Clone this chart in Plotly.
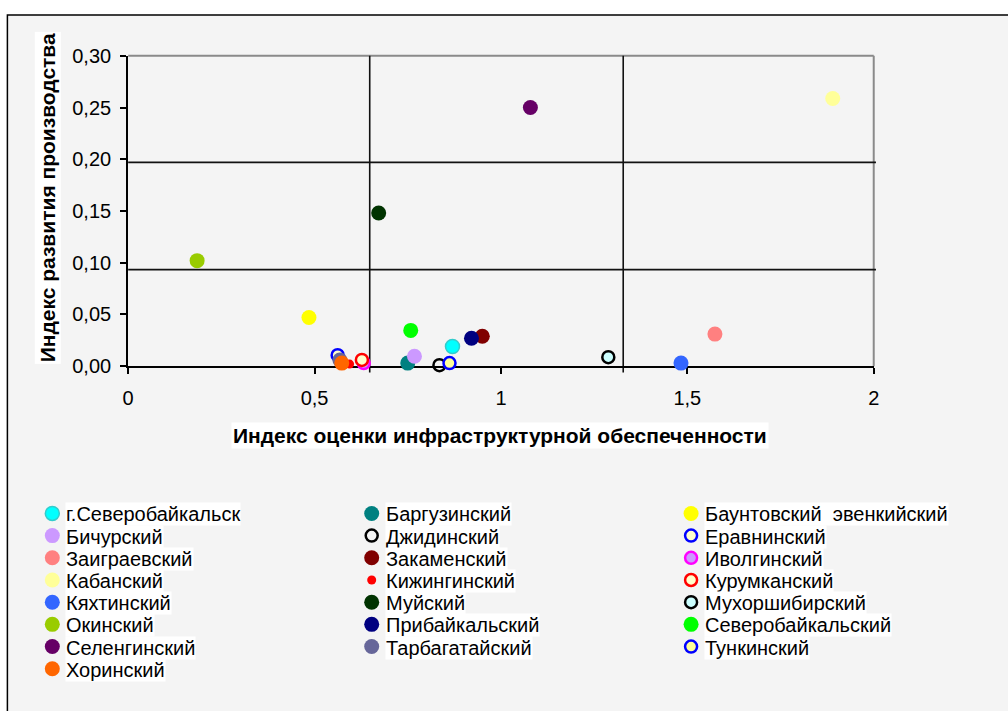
import plotly.graph_objects as go

# ---------------- data ----------------
districts = [
    "г.Северобайкальск", "Баргузинский", "Баунтовский  эвенкийский",
    "Бичурский", "Джидинский", "Еравнинский",
    "Заиграевский", "Закаменский", "Иволгинский",
    "Кабанский", "Кижингинский", "Курумканский",
    "Кяхтинский", "Муйский", "Мухоршибирский",
    "Окинский", "Прибайкальский", "Северобайкальский",
    "Селенгинский", "Тарбагатайский", "Тункинский",
    "Хоринский",
]
infra_index = [0.870, 0.750, 0.485, 0.768, 0.835, 0.562, 1.574, 0.950, 0.632,
               1.890, 0.594, 0.627, 1.483, 0.672, 1.288, 0.185, 0.921, 0.758,
               1.079, 0.568, 0.862, 0.573]
prod_index = [0.019, 0.003, 0.047, 0.0096, 0.001, 0.0106, 0.031, 0.029, 0.003,
              0.2587, 0.002, 0.006, 0.003, 0.148, 0.0087, 0.102, 0.027, 0.0346,
              0.250, 0.006, 0.003, 0.003]

# quadrant divider lines (values on the axes)
divider_x = [0.648, 1.328]
divider_y = [0.0933, 0.197]

x_title = "Индекс оценки инфраструктурной обеспеченности"
y_title = "Индекс развития производства"

# ---------------- styles ----------------
fill_colors = ["#00ffff", "#008080", "#ffff00", "#cc99ff", "rgba(0,0,0,0)", "#ffffcc",
               "#ff8080", "#800000", "#cc99ff", "#ffff99", "#ff0000", "#ffffcc",
               "#3366ff", "#003300", "#ccffff", "#99cc00", "#000080", "#00ff00",
               "#660066", "#666699", "#ffff99", "#ff6600"]
line_colors = ["#33cccc", "#008080", "#ffff00", "#cc99ff", "#000000", "#0000ff",
               "#ff8080", "#800000", "#ff00ff", "#ffff99", "#ff0000", "#ff0000",
               "#3366ff", "#003300", "#000000", "#99cc00", "#000080", "#00ff00",
               "#660066", "#666699", "#0000ff", "#ff6600"]
line_widths = [1.5, 0, 0, 0, 2.5, 2.5, 0, 0, 2.5, 0, 0, 2.5,
               0, 0, 2.5, 0, 0, 0, 0, 0, 2.5, 0]
sizes = [14, 15, 15, 15, 12, 12, 15, 15, 12, 15, 9, 12,
         15, 15, 12, 15, 15, 15, 15, 15, 12, 15]

W, H = 1008, 711
FONT = "Liberation Sans, Arial, sans-serif"

# calibration of page -> picture (observed)
SX, OX, SY, OY = 0.99, 5.6, 0.974, 9.0
def dx(t):
    return (t - OX) / SX
def dy(t):
    return (t - OY) / SY

plot_l, plot_r, plot_t, plot_b = dx(128), dx(875), dy(54), dy(366)

fig = go.Figure()

for i, name in enumerate(districts):
    fig.add_trace(go.Scatter(
        x=[infra_index[i]], y=[prod_index[i]], mode="markers", name=name,
        marker=dict(size=sizes[i], color=fill_colors[i], opacity=1,
                    line=dict(color=line_colors[i], width=line_widths[i])),
        cliponaxis=False, showlegend=False, xaxis="x", yaxis="y",
    ))

# ---------------- manual legend (3 columns, row-major) ----------------
ncol = 3
col_px, col_step = dx(52), 320 / SX
row_px, row_step = dy(514), 22.3 / SY
leg_x = [i % ncol for i in range(len(districts))]
leg_y = [i // ncol for i in range(len(districts))]
fig.add_trace(go.Scatter(
    x=leg_x, y=leg_y, mode="markers", xaxis="x2", yaxis="y2",
    marker=dict(size=sizes, color=fill_colors, opacity=1,
                line=dict(color=line_colors, width=line_widths)),
    hoverinfo="skip", showlegend=False, cliponaxis=False,
))

annotations = []
for i, name in enumerate(districts):
    annotations.append(dict(
        x=leg_x[i], y=leg_y[i], xref="x2", yref="y2", text=name,
        showarrow=False, xanchor="left", yanchor="middle", xshift=13, yshift=-1,
        font=dict(family=FONT, size=20, color="black"),
        bgcolor="white", borderpad=0,
    ))

annotations.append(dict(
    x=dx(501) / W, y=1 - dy(436) / H, xref="paper", yref="paper",
    text="<b>" + x_title + "</b>", showarrow=False, xanchor="center", yanchor="middle",
    font=dict(family=FONT, size=21, color="black"), bgcolor="white", borderpad=1,
))
annotations.append(dict(
    x=dx(47) / W, y=1 - dy(197) / H, xref="paper", yref="paper",
    text="<b>" + y_title + "</b>", showarrow=False, xanchor="center", yanchor="middle",
    textangle=-90,
    font=dict(family=FONT, size=21, color="black"), bgcolor="white", borderpad=1,
))

shapes = []
# outer chart frame (area)
shapes.append(dict(type="rect", xref="paper", yref="paper",
                   x0=dx(7) / W, x1=1.05, y0=-0.05, y1=1 - dy(13) / H,
                   fillcolor="#f4f4f4", line=dict(color="black", width=1.5),
                   layer="below"))
# plot area top/right border (grey)
shapes.append(dict(type="line", xref="x domain", yref="y domain", x0=0, x1=1, y0=1, y1=1,
                   line=dict(color="#8a8a8a", width=2), layer="below"))
shapes.append(dict(type="line", xref="x domain", yref="y domain", x0=1, x1=1, y0=0, y1=1,
                   line=dict(color="#8a8a8a", width=2), layer="below"))
for yv in divider_y:
    shapes.append(dict(type="line", xref="x domain", yref="y", x0=0, x1=1.003, y0=yv, y1=yv,
                       line=dict(color="#111111", width=1.6), layer="below"))
for xv in divider_x:
    shapes.append(dict(type="line", xref="x", yref="y domain", x0=xv, x1=xv, y0=-0.02, y1=1,
                       line=dict(color="#111111", width=1.6), layer="below"))

fig.update_layout(
    width=W, height=H,
    margin=dict(l=0, r=0, t=0, b=0),
    paper_bgcolor="white",
    plot_bgcolor="rgba(0,0,0,0)",
    separators=", ",
    showlegend=False,
    font=dict(family=FONT, color="black"),
    xaxis=dict(
        domain=[plot_l / W, plot_r / W], range=[0, 2], dtick=0.5, tick0=0,
        showgrid=False, zeroline=False, showline=True, linecolor="black", linewidth=2,
        ticks="outside", ticklen=6, tickwidth=1.5, tickcolor="black",
        tickfont=dict(family=FONT, size=20, color="black"), ticklabelstandoff=7,
        layer="below traces", fixedrange=True,
    ),
    yaxis=dict(
        domain=[1 - plot_b / H, 1 - plot_t / H], range=[0, 0.3], dtick=0.05, tick0=0,
        tickformat=".2f",
        showgrid=False, zeroline=False, showline=True, linecolor="black", linewidth=2,
        ticks="outside", ticklen=6, tickwidth=1.5, tickcolor="black",
        tickfont=dict(family=FONT, size=20, color="black"), ticklabelstandoff=5,
        layer="below traces", fixedrange=True,
    ),
    xaxis2=dict(
        domain=[0, 1], anchor="y2", visible=False, fixedrange=True,
        range=[-col_px / col_step, (W - col_px) / col_step],
    ),
    yaxis2=dict(
        domain=[0, 1], anchor="x2", visible=False, fixedrange=True,
        range=[(H - row_px) / row_step, -row_px / row_step],
    ),
    annotations=annotations,
    shapes=shapes,
)

fig.write_html(
    "out.html",
    config={"displayModeBar": False},
    post_script=(
        "document.body.style.margin='0';"
        "document.body.style.overflow='hidden';"
        "document.body.style.background="
        "'linear-gradient(to right,#fff 0,#fff 7px,transparent 7px),"
        "linear-gradient(to bottom,#fff 0,#fff 12px,#f4f4f4 12px)';"
    ),
)
